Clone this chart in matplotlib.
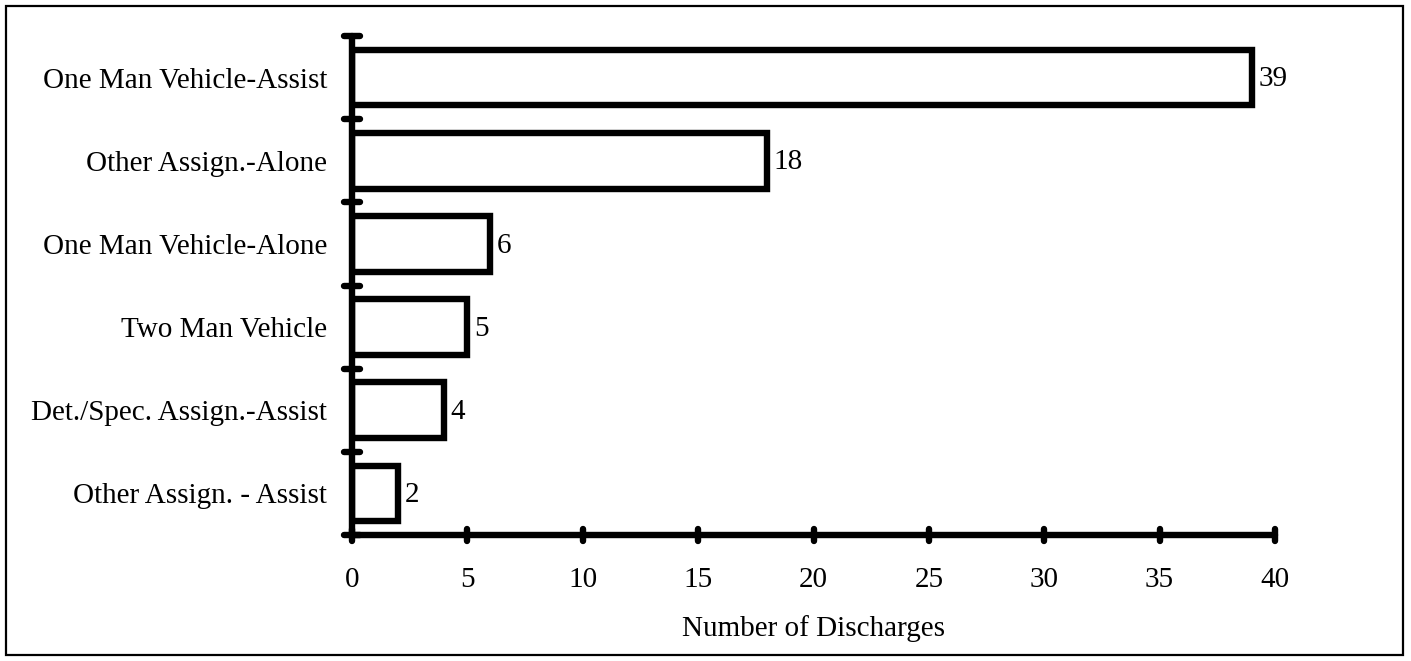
import matplotlib
matplotlib.use("Agg")
import matplotlib.pyplot as plt
from matplotlib.markers import MarkerStyle
from matplotlib.patches import Rectangle

# data
categories = ["One Man Vehicle-Assist", "Other Assign.-Alone", "One Man Vehicle-Alone",
              "Two Man Vehicle", "Det./Spec. Assign.-Assist", "Other Assign. - Assist"]
discharges = [39, 18, 6, 5, 4, 2]
xticks = [0, 5, 10, 15, 20, 25, 30, 35, 40]

plt.rcParams['font.family'] = ['Liberation Serif', 'DejaVu Serif']
fs = 21
lw = 4.6

fig = plt.figure(figsize=(14.11, 6.61), dpi=100)
ax = fig.add_axes([0.2495, 0.1906, 0.9036 - 0.2495, 0.9455 - 0.1906])

ypos = list(range(len(categories)))
ax.barh(ypos, discharges, height=0.67, color='white', edgecolor='black', linewidth=lw)
for y, v in zip(ypos, discharges):
    ax.text(v + 0.28, y + 0.02, str(v), va='center', ha='left', fontsize=fs)

ax.set_ylim(len(categories) - 0.5, -0.5)
ax.set_xlim(0, 40)
ax.set_xticks(xticks)
ax.set_yticks([i - 0.5 for i in range(len(categories) + 1)])
ax.set_yticklabels([])
ax.set_yticks(ypos, minor=True)
ax.set_yticklabels(categories, minor=True, fontsize=fs)
ax.tick_params(axis='y', which='minor', length=0, pad=18)
ax.tick_params(axis='y', which='major', direction='inout', length=11, width=lw)
ax.tick_params(axis='x', direction='inout', length=8, width=lw, labelsize=fs, pad=19)

for sp in ['top', 'right']:
    ax.spines[sp].set_visible(False)
for sp in ['left', 'bottom']:
    ax.spines[sp].set_linewidth(lw)
    ax.spines[sp].set_capstyle('round')

for tl in ax.xaxis.get_majorticklines():
    tl.set_marker(MarkerStyle('|', capstyle='round'))
for tl in ax.yaxis.get_majorticklines():
    tl.set_marker(MarkerStyle('_', capstyle='round'))

ax.set_xlabel("Number of Discharges", fontsize=fs)
ax.xaxis.set_label_coords(0.5, -0.187)
ax.xaxis.label.set_va('center')

fig.patches.append(Rectangle((6 / 1411, 6 / 661), 1397 / 1411, 649 / 661, transform=fig.transFigure,
                             fill=False, edgecolor='black', linewidth=1.6))

fig.savefig("out.png", dpi=100)
